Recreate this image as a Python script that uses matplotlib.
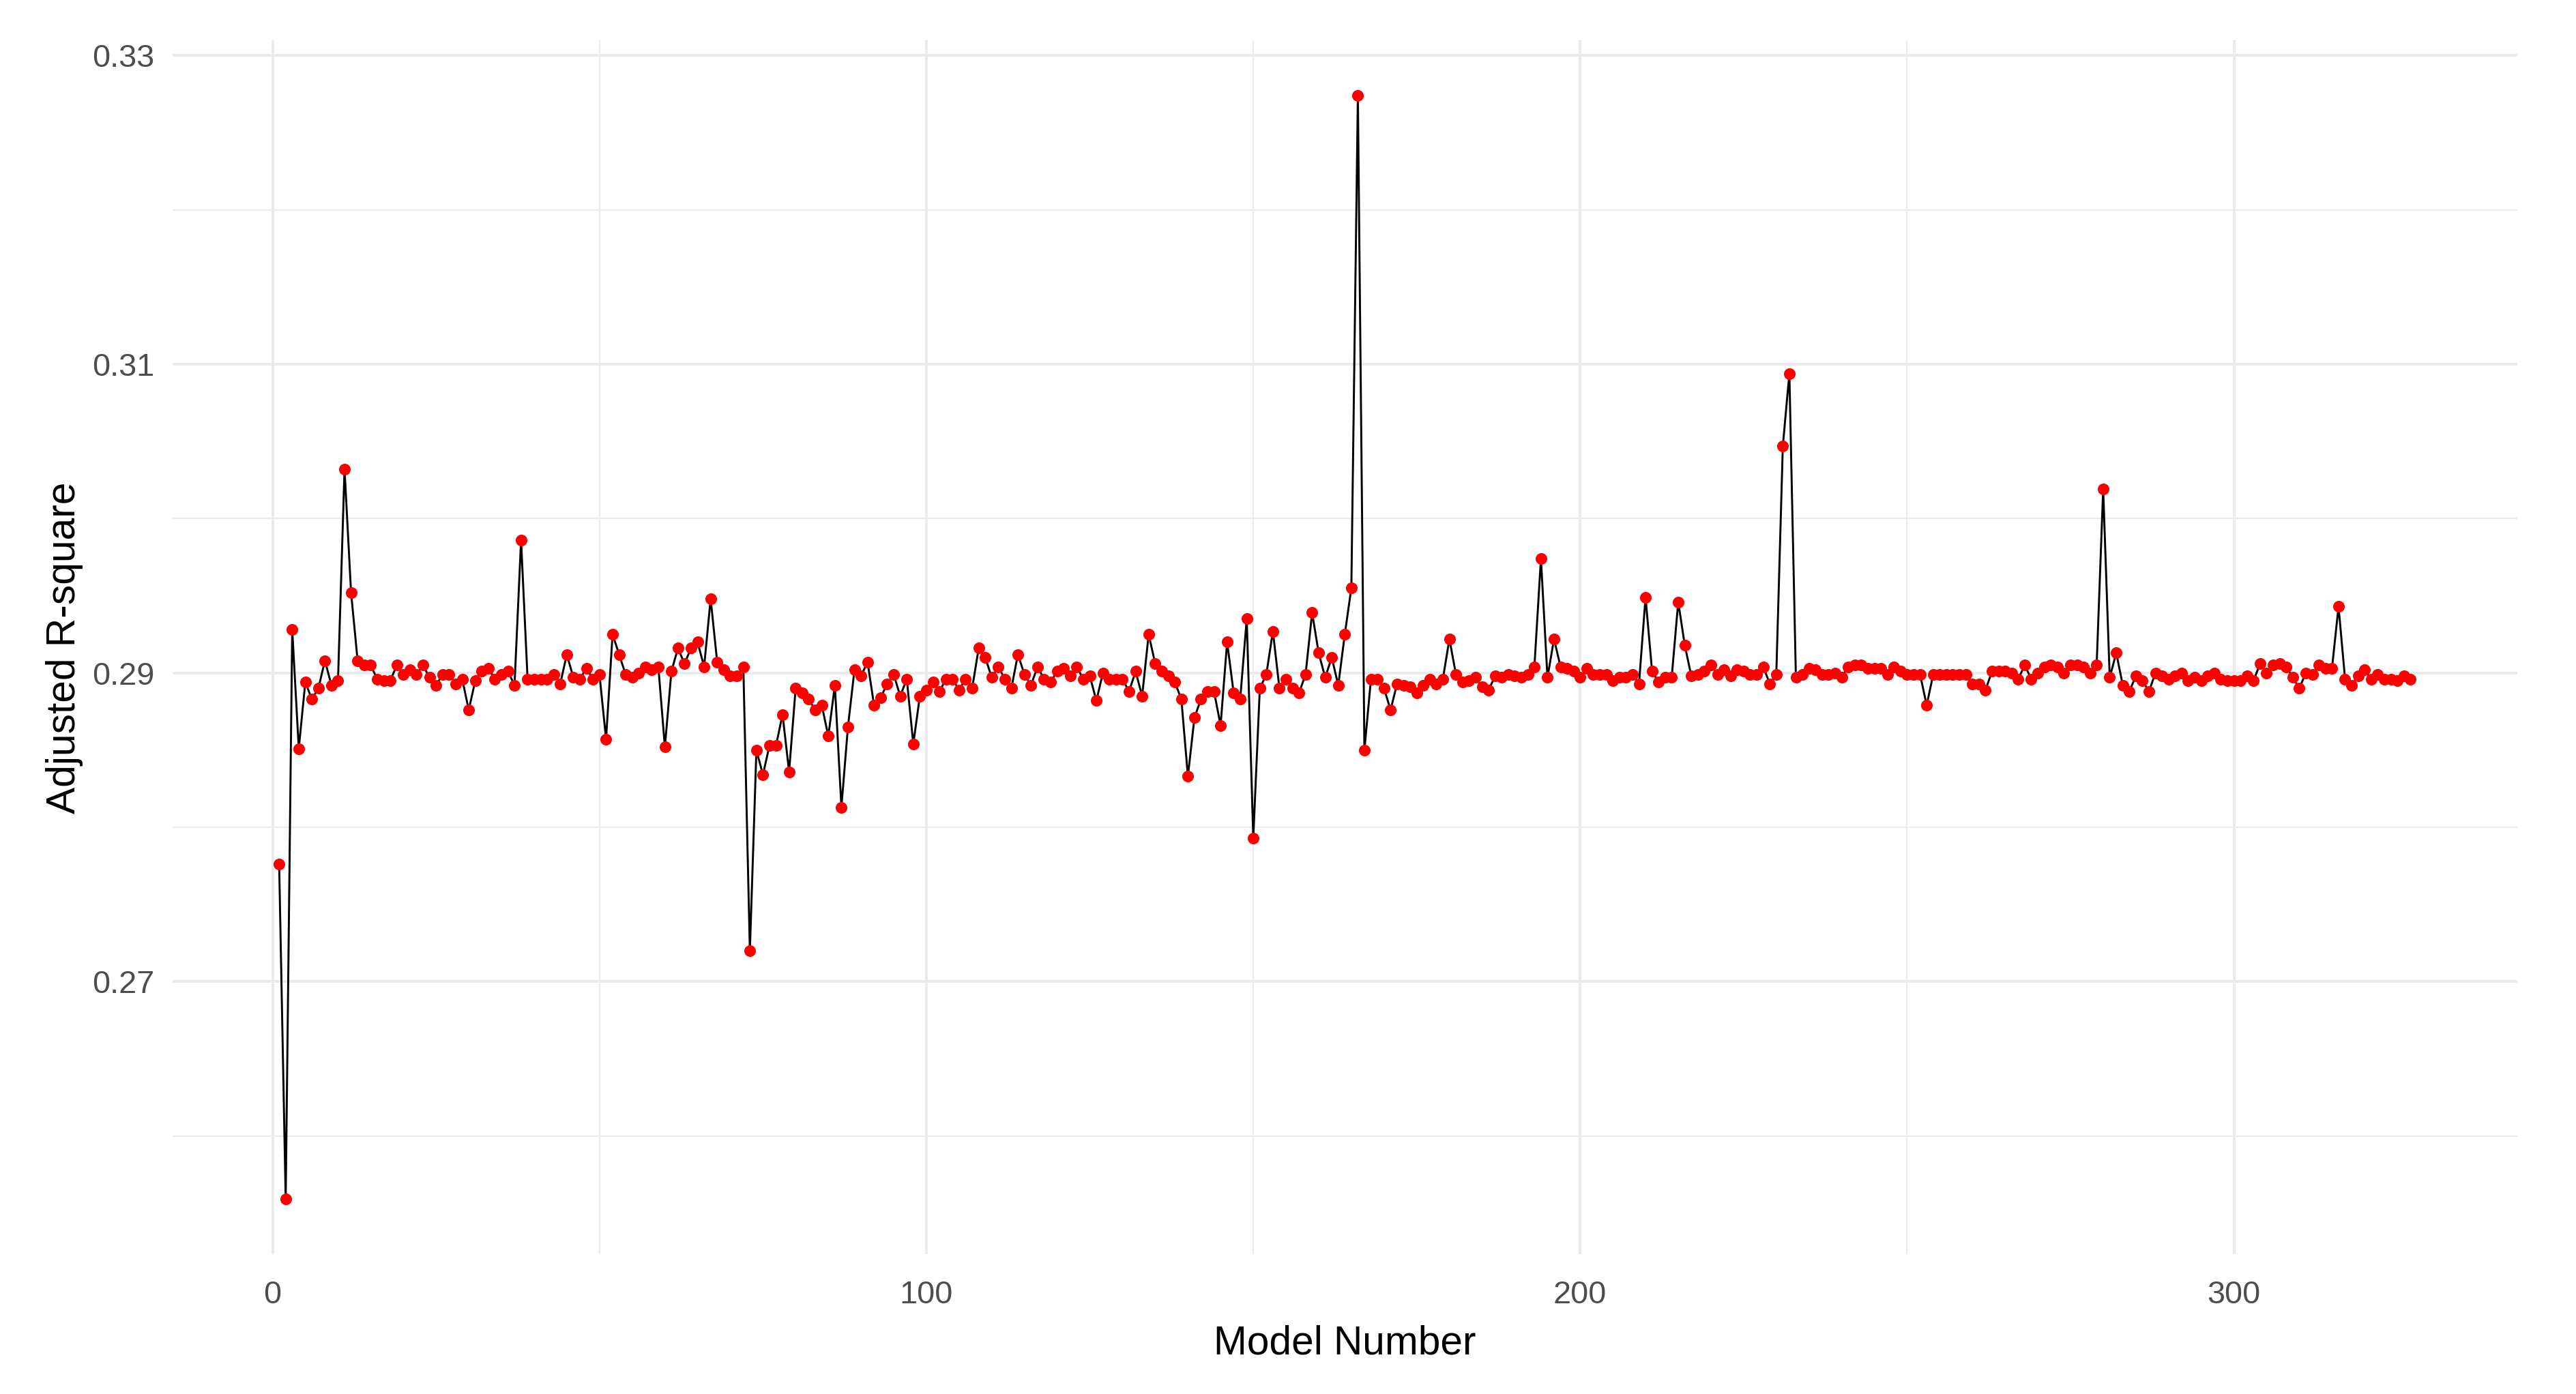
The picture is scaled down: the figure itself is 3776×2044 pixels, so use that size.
import numpy as np
import matplotlib
matplotlib.use("Agg")
import matplotlib.pyplot as plt

# adjusted R-square per model (models 1..327)
adj_r2 = [
    0.2776, 0.2559, 0.2928, 0.2851, 0.2894, 0.2883, 0.2890, 0.2908, 0.2892, 0.2895,
    0.3032, 0.2952, 0.2908, 0.2905, 0.2905, 0.2896, 0.2895, 0.2895, 0.2905, 0.2899,
    0.2902, 0.2899, 0.2905, 0.2897, 0.2892, 0.2899, 0.2899, 0.2893, 0.2896, 0.2876,
    0.2895, 0.2901, 0.2903, 0.2896, 0.2899, 0.2901, 0.2892, 0.2986, 0.2896, 0.2896,
    0.2896, 0.2896, 0.2899, 0.2893, 0.2912, 0.2897, 0.2896, 0.2903, 0.2896, 0.2899,
    0.2857, 0.2925, 0.2912, 0.2899, 0.2897, 0.2900, 0.2904, 0.2902, 0.2904, 0.2852,
    0.2901, 0.2916, 0.2906, 0.2916, 0.2920, 0.2904, 0.2948, 0.2907, 0.2902, 0.2898,
    0.2898, 0.2904, 0.2720, 0.2850, 0.2834, 0.2853, 0.2853, 0.2873, 0.2836, 0.2890,
    0.2887, 0.2883, 0.2876, 0.2879, 0.2859, 0.2892, 0.2813, 0.2865, 0.2902, 0.2898,
    0.2907, 0.2879, 0.2884, 0.2893, 0.2899, 0.2885, 0.2896, 0.2854, 0.2885, 0.2889,
    0.2894, 0.2888, 0.2896, 0.2896, 0.2889, 0.2896, 0.2890, 0.2916, 0.2910, 0.2897,
    0.2904, 0.2896, 0.2890, 0.2912, 0.2899, 0.2892, 0.2904, 0.2896, 0.2894, 0.2901,
    0.2903, 0.2898, 0.2904, 0.2896, 0.2898, 0.2882, 0.2900, 0.2896, 0.2896, 0.2896,
    0.2888, 0.2901, 0.2885, 0.2925, 0.2906, 0.2901, 0.2898, 0.2894, 0.2883, 0.2833,
    0.2871, 0.2883, 0.2888, 0.2888, 0.2866, 0.2920, 0.2887, 0.2883, 0.2935, 0.2793,
    0.2890, 0.2899, 0.2927, 0.2890, 0.2896, 0.2890, 0.2887, 0.2899, 0.2939, 0.2913,
    0.2897, 0.2910, 0.2892, 0.2925, 0.2955, 0.3274, 0.2850, 0.2896, 0.2896, 0.2890,
    0.2876, 0.2893, 0.2892, 0.2891, 0.2887, 0.2892, 0.2896, 0.2893, 0.2896, 0.2922,
    0.2899, 0.2894, 0.2895, 0.2897, 0.2891, 0.2889, 0.2898, 0.2897, 0.2899, 0.2898,
    0.2897, 0.2899, 0.2904, 0.2974, 0.2897, 0.2922, 0.2904, 0.2903, 0.2901, 0.2897,
    0.2903, 0.2899, 0.2899, 0.2899, 0.2895, 0.2897, 0.2897, 0.2899, 0.2893, 0.2949,
    0.2901, 0.2894, 0.2897, 0.2897, 0.2946, 0.2918, 0.2898, 0.2899, 0.2901, 0.2905,
    0.2899, 0.2902, 0.2898, 0.2902, 0.2901, 0.2899, 0.2899, 0.2904, 0.2893, 0.2899,
    0.3047, 0.3094, 0.2897, 0.2899, 0.2903, 0.2902, 0.2899, 0.2899, 0.2900, 0.2897,
    0.2904, 0.2905, 0.2905, 0.2903, 0.2903, 0.2903, 0.2899, 0.2904, 0.2901, 0.2899,
    0.2899, 0.2899, 0.2879, 0.2899, 0.2899, 0.2899, 0.2899, 0.2899, 0.2899, 0.2893,
    0.2893, 0.2889, 0.2901, 0.2901, 0.2901, 0.2900, 0.2896, 0.2905, 0.2896, 0.2900,
    0.2904, 0.2905, 0.2904, 0.2900, 0.2905, 0.2905, 0.2904, 0.2900, 0.2905, 0.3019,
    0.2897, 0.2913, 0.2892, 0.2888, 0.2898, 0.2895, 0.2888, 0.2900, 0.2898, 0.2896,
    0.2898, 0.2900, 0.2895, 0.2897, 0.2895, 0.2898, 0.2900, 0.2896, 0.2895, 0.2895,
    0.2895, 0.2898, 0.2895, 0.2906, 0.2900, 0.2905, 0.2906, 0.2904, 0.2897, 0.2890,
    0.2900, 0.2899, 0.2905, 0.2903, 0.2903, 0.2943, 0.2896, 0.2892, 0.2898, 0.2902,
    0.2896, 0.2899, 0.2896, 0.2896, 0.2895, 0.2898, 0.2896,
]
model_no = np.arange(1, len(adj_r2) + 1)

x_ticks = [0, 100, 200, 300]
x_minor = [50, 150, 250]
y_ticks = [0.27, 0.29, 0.31, 0.33]
y_minor = [0.26, 0.28, 0.30, 0.32]

plt.rcParams['font.family'] = ['Liberation Sans', 'DejaVu Sans']

fig = plt.figure(figsize=(3776 / 384, 2044 / 384), dpi=384)
ax = fig.add_axes([0.0670, 0.1001, 0.9101, 0.8709])

ax.plot(model_no, adj_r2, color='black', linewidth=0.55, zorder=3)
ax.plot(model_no, adj_r2, linestyle='none', marker='o', markersize=3.2,
        markerfacecolor='red', markeredgecolor='red', markeredgewidth=0, zorder=4)

# ggplot-like limits: 5% expansion of data range
xr = model_no.max() - model_no.min()
ax.set_xlim(model_no.min() - 0.05 * xr, model_no.max() + 0.05 * xr)
yr = max(adj_r2) - min(adj_r2)
ax.set_ylim(min(adj_r2) - 0.05 * yr, max(adj_r2) + 0.05 * yr)

ax.set_xticks(x_ticks)
ax.set_xticks(x_minor, minor=True)
ax.set_yticks(y_ticks)
ax.set_yticks(y_minor, minor=True)
ax.set_yticklabels([f"{v:.2f}" for v in y_ticks])

ax.grid(True, which='major', color='#EBEBEB', linewidth=0.75, zorder=0)
ax.grid(True, which='minor', color='#EBEBEB', linewidth=0.4, zorder=0)
ax.set_axisbelow(True)
for s in ax.spines.values():
    s.set_visible(False)
ax.tick_params(which='both', length=0)
ax.tick_params(axis='x', labelsize=8.8, labelcolor='#4D4D4D', pad=7)
ax.tick_params(axis='y', labelsize=8.8, labelcolor='#4D4D4D', pad=5)

ax.set_xlabel('Model Number', fontsize=11, color='black', labelpad=4)
ax.set_ylabel('Adjusted R-square', fontsize=11, color='black', labelpad=2.5)

fig.savefig('out.png', dpi=384, facecolor='white')
